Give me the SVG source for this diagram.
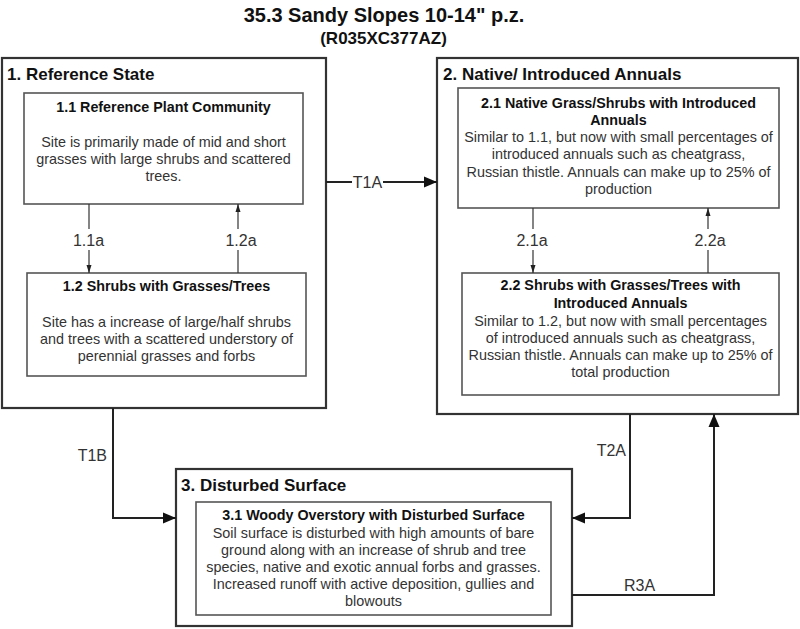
<svg xmlns="http://www.w3.org/2000/svg" width="800" height="629" viewBox="0 0 800 629">
<defs>
<style>
text{font-family:"Liberation Sans",Arial,sans-serif;}
.ttl{font-size:20px;font-weight:bold;fill:#111;text-anchor:middle;}
.sub{font-size:17px;font-weight:bold;fill:#111;text-anchor:middle;}
.st{font-size:17px;font-weight:bold;fill:#111;}
.bt{font-size:14.3px;font-weight:bold;fill:#111;text-anchor:middle;}
.bd{font-size:14.4px;fill:#333;text-anchor:middle;}
.lbl{font-size:16px;fill:#333;}
.outer{fill:#fff;stroke:#333;stroke-width:2.2;}
.inner{fill:#fff;stroke:#555;stroke-width:1.6;}
.big{fill:none;stroke:#222;stroke-width:2;}
.thin{fill:none;stroke:#333;stroke-width:1.2;}
</style>
<marker id="ab" markerUnits="userSpaceOnUse" markerWidth="14" markerHeight="12" refX="13" refY="6" orient="auto">
<path d="M0,0.5 L13,6 L0,11.5 Z" fill="#111"/>
</marker>
<marker id="as" markerUnits="userSpaceOnUse" markerWidth="8" markerHeight="6" refX="8" refY="3" orient="auto">
<path d="M0,0.5 L8,3 L0,5.5 Z" fill="#222"/>
</marker>
</defs>
<rect width="800" height="629" fill="#fff"/>
<text class="ttl" x="384" y="22">35.3 Sandy Slopes 10-14" p.z.</text>
<text class="sub" x="383.5" y="44">(R035XC377AZ)</text>

<g id="state1">
<rect class="outer" x="2" y="58" width="324" height="350"/>
<text class="st" x="7" y="79.5">1. Reference State</text>
</g>
<g id="n11">
<rect class="inner" x="24" y="93" width="279" height="111"/>
<text class="bt" x="163.5" y="112">1.1 Reference Plant Community</text>
<text class="bd" x="163.5" y="147">Site is primarily made of mid and short</text>
<text class="bd" x="163.5" y="164">grasses with large shrubs and scattered</text>
<text class="bd" x="163.5" y="181">trees.</text>
</g>
<g id="n12">
<rect class="inner" x="27" y="273" width="279" height="103"/>
<text class="bt" x="166.5" y="291">1.2 Shrubs with Grasses/Trees</text>
<text class="bd" x="166.5" y="327">Site has a increase of large/half shrubs</text>
<text class="bd" x="166.5" y="344">and trees with a scattered understory of</text>
<text class="bd" x="166.5" y="361">perennial grasses and forbs</text>
</g>

<g id="state2">
<rect class="outer" x="437" y="58" width="361" height="356"/>
<text class="st" x="443" y="79.5">2. Native/ Introduced Annuals</text>
</g>
<g id="n21">
<rect class="inner" x="458" y="88" width="321" height="120"/>
<text class="bt" x="618.5" y="108">2.1 Native Grass/Shrubs with Introduced</text>
<text class="bt" x="618.5" y="125">Annuals</text>
<text class="bd" x="618.5" y="142">Similar to 1.1, but now with small percentages of</text>
<text class="bd" x="618.5" y="159">introduced annuals such as cheatgrass,</text>
<text class="bd" x="618.5" y="176.5">Russian thistle. Annuals can make up to 25% of</text>
<text class="bd" x="618.5" y="194">production</text>
</g>
<g id="n22">
<rect class="inner" x="462" y="273" width="317" height="122"/>
<text class="bt" x="620.5" y="290">2.2 Shrubs with Grasses/Trees with</text>
<text class="bt" x="620.5" y="308">Introduced Annuals</text>
<text class="bd" x="620.5" y="326">Similar to 1.2, but now with small percentages</text>
<text class="bd" x="620.5" y="343">of introduced annuals such as cheatgrass,</text>
<text class="bd" x="620.5" y="360">Russian thistle. Annuals can make up to 25% of</text>
<text class="bd" x="620.5" y="377">total production</text>
</g>

<g id="state3">
<rect class="outer" x="176" y="469" width="396" height="157"/>
<text class="st" x="181" y="491">3. Disturbed Surface</text>
</g>
<g id="n31">
<rect class="inner" x="196" y="502" width="355" height="113"/>
<text class="bt" x="373.5" y="520">3.1 Woody Overstory with Disturbed Surface</text>
<text class="bd" x="373.5" y="538">Soil surface is disturbed with high amounts of bare</text>
<text class="bd" x="373.5" y="555">ground along with an increase of shrub and tree</text>
<text class="bd" x="373.5" y="572">species, native and exotic annual forbs and grasses.</text>
<text class="bd" x="373.5" y="589">Increased runoff with active deposition, gullies and</text>
<text class="bd" x="373.5" y="606">blowouts</text>
</g>

<g id="connectors">
<path class="big" d="M326,182 H352"/>
<path class="big" d="M383,182 H437" marker-end="url(#ab)"/>
<text class="lbl" x="367.5" y="188" text-anchor="middle">T1A</text>

<path class="thin" d="M89,204 V229"/>
<path class="thin" d="M89,250 V273" marker-end="url(#as)"/>
<text class="lbl" x="88.5" y="246" text-anchor="middle">1.1a</text>
<path class="thin" d="M238,273 V250"/>
<path class="thin" d="M238,229 V204" marker-end="url(#as)"/>
<text class="lbl" x="241" y="246" text-anchor="middle">1.2a</text>

<path class="thin" d="M533,208 V229"/>
<path class="thin" d="M533,250 V273" marker-end="url(#as)"/>
<text class="lbl" x="532" y="246" text-anchor="middle">2.1a</text>
<path class="thin" d="M708,273 V250"/>
<path class="thin" d="M708,229 V208" marker-end="url(#as)"/>
<text class="lbl" x="710" y="246" text-anchor="middle">2.2a</text>

<path class="big" d="M113,408 V518 H176" marker-end="url(#ab)"/>
<text class="lbl" x="107" y="461" text-anchor="end">T1B</text>
<path class="big" d="M630,414 V518 H572" marker-end="url(#ab)"/>
<text class="lbl" x="626" y="456" text-anchor="end">T2A</text>
<path class="big" d="M572,595 H714 V414" marker-end="url(#ab)"/>
<text class="lbl" x="639.5" y="591" text-anchor="middle">R3A</text>
</g>
</svg>
